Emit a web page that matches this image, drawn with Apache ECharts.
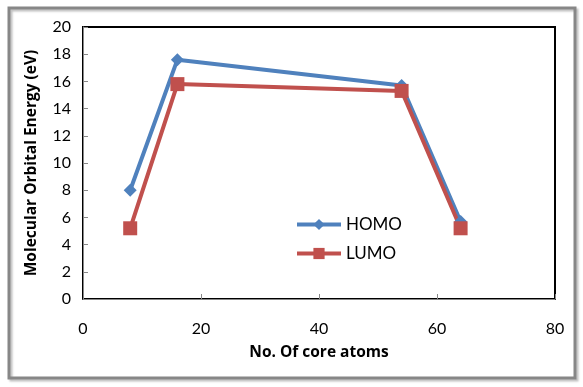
<!DOCTYPE html>
<html>
<head>
<meta charset="utf-8">
<script src="https://cdn.jsdelivr.net/npm/echarts@6/dist/echarts.min.js"></script>
<style>
  html, body { margin: 0; padding: 0; background: #fff; }
  #chart { width: 583px; height: 387px; }
</style>
</head>
<body>
<div id="chart"></div>
<script>
// core atom counts
const coreAtoms = [8, 16, 54, 64];
const homo = [8.0, 17.6, 15.7, 5.7];
const lumo = [5.2, 15.8, 15.3, 5.2];

const pairs = (xs, ys) => xs.map((x, i) => [x, ys[i]]);

const chart = echarts.init(document.getElementById('chart'));
const labelFont = { fontFamily: 'Lato, "Open Sans", sans-serif', fontSize: 16, color: '#000' };
const nameFont = { fontFamily: '"Open Sans", Lato, sans-serif', fontWeight: 'bold', color: '#000' };

chart.setOption({
  animation: false,
  graphic: [
    {
      type: 'rect',
      shape: { x: 9, y: 8, width: 566, height: 370 },
      style: { fill: 'none', stroke: '#878787', lineWidth: 3,
        shadowColor: 'rgba(0,0,0,0.25)', shadowOffsetX: 2, shadowOffsetY: 2, shadowBlur: 2 },
      silent: true
    }
  ],
  grid: {
    left: 83, top: 27, right: 28, bottom: 88,
    show: true, borderColor: '#000', borderWidth: 2, backgroundColor: '#fff'
  },
  legend: {
    orient: 'vertical',
    left: 290, top: 211,
    itemWidth: 44, itemHeight: 14, itemGap: 12,
    lineStyle: { width: 4 },
    textStyle: Object.assign({}, labelFont, { fontSize: 17 }),
    data: ['HOMO', 'LUMO']
  },
  xAxis: {
    type: 'value', min: 0, max: 80, interval: 20,
    name: 'No. Of core atoms', nameLocation: 'middle', nameGap: 46,
    nameTextStyle: Object.assign({ fontSize: 15.5 }, nameFont),
    axisLine: { lineStyle: { color: '#888', width: 1 } },
    axisTick: { inside: true, length: 5, lineStyle: { color: '#888' } },
    axisLabel: Object.assign({ margin: 22 }, labelFont),
    splitLine: { show: false }
  },
  yAxis: {
    type: 'value', min: 0, max: 20, interval: 2,
    name: 'Molecular Orbital Energy (eV)', nameLocation: 'middle', nameGap: 43,
    nameTextStyle: Object.assign({ fontSize: 15.5 }, nameFont),
    axisLine: { show: true, lineStyle: { color: '#888', width: 1 } },
    axisTick: { show: true, inside: true, length: 5, lineStyle: { color: '#888' } },
    axisLabel: Object.assign({ margin: 12 }, labelFont),
    splitLine: { show: false }
  },
  series: [
    {
      name: 'HOMO', type: 'line', data: pairs(coreAtoms, homo),
      symbol: 'diamond', symbolSize: 13,
      itemStyle: { color: '#4F81BD' },
      lineStyle: { color: '#4F81BD', width: 4 }
    },
    {
      name: 'LUMO', type: 'line', data: pairs(coreAtoms, lumo),
      symbol: 'rect', symbolSize: 14,
      itemStyle: { color: '#C0504D' },
      lineStyle: { color: '#C0504D', width: 4 }
    }
  ]
});
</script>
</body>
</html>
